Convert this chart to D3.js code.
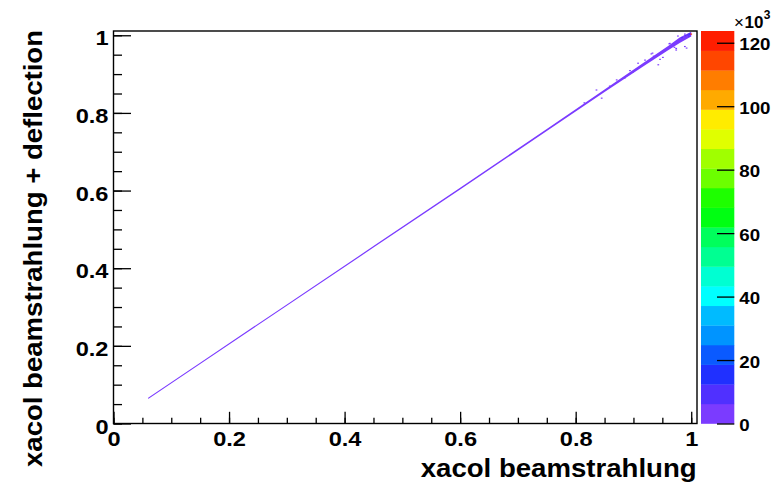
<!DOCTYPE html>
<html>
<head>
<meta charset="utf-8">
<script src="https://cdn.jsdelivr.net/npm/d3@7/dist/d3.min.js"></script>
<style>
  html, body { margin: 0; padding: 0; background: #fff; }
  svg { display: block; font-family: "Liberation Sans", Arial, Helvetica, sans-serif; font-weight: bold; }
</style>
</head>
<body>
<svg id="chart" width="778" height="485"></svg>
<script>
// ---- axis ranges and ticks ----
const xRange = [0, 1.01];
const yRange = [0, 1.011];
const majorTicks = [0, 0.2, 0.4, 0.6, 0.8, 1];
const minorTicks = d3.range(0, 1.0001, 0.05);
const tickLabels = ["0", "0.2", "0.4", "0.6", "0.8", "1"];

// ---- colour axis (entries, x10^3) ----
const zMax = 123.7;
const zTicks = [0, 20, 40, 60, 80, 100, 120];
const palette = [
  "#7b3bff", "#5030ff", "#2030ff", "#0a5aff", "#0094ff",
  "#00bbff", "#00ffff", "#00ffd2", "#00ff92", "#00ff5c",
  "#00ff12", "#1eff00", "#6cff00", "#a0ff00", "#e0ff00",
  "#ffec00", "#ffaa00", "#ff7d00", "#ff4600", "#ff1e00"
];

// ---- populated ridge of the distribution: x, centre y, half-thickness ----
const ridgeX    = [0.060, 0.15, 0.30, 0.45, 0.60, 0.75, 0.85, 0.92, 0.96, 0.98, 1.000];
const ridgeY    = [0.065, 0.155, 0.305, 0.455, 0.605, 0.756, 0.857, 0.927, 0.967, 0.987, 1.003];
const ridgeHalf = [0.0016, 0.0017, 0.0018, 0.0019, 0.0021, 0.0026, 0.0034, 0.0045, 0.0055, 0.0070, 0.0060];
const ridgeCount = 0.5;

// ---- isolated bins off the ridge: [x, y, entries x10^3] ----
const cells = [
  [0.815, 0.826, 0.3], [0.836, 0.859, 0.4], [0.845, 0.838, 0.3], [0.859, 0.869, 0.3],
  [0.871, 0.885, 0.4], [0.885, 0.890, 0.3], [0.894, 0.909, 0.5], [0.899, 0.905, 0.4],
  [0.908, 0.928, 0.3], [0.920, 0.936, 0.4], [0.931, 0.952, 0.3], [0.933, 0.954, 0.5],
  [0.935, 0.946, 0.4], [0.940, 0.947, 0.3], [0.943, 0.924, 0.3], [0.946, 0.938, 0.4],
  [0.951, 0.943, 0.3], [0.962, 0.978, 0.4], [0.963, 0.979, 0.5], [0.967, 0.976, 0.3],
  [0.971, 0.969, 0.4], [0.974, 0.962, 0.3], [0.974, 0.966, 0.3], [0.975, 0.983, 0.5],
  [0.977, 0.998, 0.4], [0.979, 0.989, 0.6], [0.989, 0.971, 0.3], [0.989, 1.003, 0.8],
  [0.992, 0.967, 0.3],
  [0.984, 0.994, 7.5], [0.990, 0.999, 9.0], [0.994, 1.001, 8.0], [0.997, 1.003, 14.0],
  [0.996, 0.998, 7.0],
  [1.000, 1.003, 123.7]
];
const binSize = 0.003;

// ---- layout ----
const svg = d3.select("#chart");
const frame = { left: 113.5, right: 697, top: 31, bottom: 423.5 };
const bar = { left: 701, right: 734.3 };

const x = d3.scaleLinear().domain(xRange).range([frame.left, frame.right]);
const y = d3.scaleLinear().domain(yRange).range([frame.bottom, frame.top]);
const z = d3.scaleLinear().domain([0, zMax]).range([frame.bottom, frame.top]);
const colour = d3.scaleQuantize().domain([0, zMax]).range(palette);

// stretch glyphs horizontally (wide bold face)
function stretch(sel, k) {
  sel.each(function () {
    const w = this.getComputedTextLength();
    this.setAttribute("textLength", w * k);
    this.setAttribute("lengthAdjust", "spacingAndGlyphs");
  });
}

// ---- histogram content ----
const ridge = ridgeX.map((v, i) => ({ x: v, y: ridgeY[i], h: ridgeHalf[i] }));
svg.append("path")
  .datum(ridge)
  .attr("fill", colour(ridgeCount))
  .attr("d", d3.area()
    .x(d => x(d.x))
    .y0(d => y(d.y - d.h))
    .y1(d => y(d.y + d.h)));

svg.append("g").selectAll("rect")
  .data(cells)
  .join("rect")
  .attr("x", d => x(d[0] - binSize / 2))
  .attr("y", d => y(d[1] + binSize / 2))
  .attr("width", x(binSize) - x(0))
  .attr("height", y(0) - y(binSize))
  .attr("fill", d => colour(d[2]));

// ---- axes ----
const labelSize = 20;

const xMinor = svg.append("g").attr("transform", `translate(0,${frame.bottom})`)
  .call(d3.axisBottom(x).tickValues(minorTicks).tickSize(-5.8).tickFormat(""));
const xMajor = svg.append("g").attr("transform", `translate(0,${frame.bottom})`)
  .call(d3.axisBottom(x).tickValues(majorTicks).tickSize(-11.7).tickPadding(8)
    .tickFormat((d, i) => tickLabels[i]));

const yMinor = svg.append("g").attr("transform", `translate(${frame.left},0)`)
  .call(d3.axisLeft(y).tickValues(minorTicks).tickSize(-8.5).tickFormat(""));
const yMajor = svg.append("g").attr("transform", `translate(${frame.left},0)`)
  .call(d3.axisLeft(y).tickValues(majorTicks).tickSize(-17.5).tickPadding(5)
    .tickFormat((d, i) => tickLabels[i]));

[xMinor, xMajor, yMinor, yMajor].forEach(g => {
  g.select(".domain").remove();
  g.selectAll(".tick line").attr("stroke", "#000").attr("stroke-width", 1.3);
  g.selectAll("text").attr("fill", "#000").style("font-size", labelSize + "px")
    .style("font-family", "Liberation Sans, Arial, sans-serif").style("font-weight", "bold");
});
yMajor.selectAll("text").attr("dy", "0.48em");
stretch(xMajor.selectAll("text"), 1.18);
stretch(yMajor.selectAll("text"), 1.18);

// frame
svg.append("rect")
  .attr("x", frame.left).attr("y", frame.top)
  .attr("width", frame.right - frame.left).attr("height", frame.bottom - frame.top)
  .attr("fill", "none").attr("stroke", "#000").attr("stroke-width", 1.4);

// ---- colour bar ----
const bands = d3.range(palette.length);
svg.append("g").selectAll("rect")
  .data(bands)
  .join("rect")
  .attr("x", bar.left)
  .attr("width", bar.right - bar.left)
  .attr("y", i => z((i + 1) * zMax / palette.length))
  .attr("height", i => z(i * zMax / palette.length) - z((i + 1) * zMax / palette.length) + 0.3)
  .attr("fill", i => palette[i]);

const zAxis = svg.append("g").attr("transform", `translate(${bar.right},0)`)
  .call(d3.axisRight(z).tickValues(zTicks).tickSize(-17.3).tickPadding(5).tickFormat(d3.format("d")));
zAxis.select(".domain").remove();
zAxis.selectAll(".tick line").attr("stroke", "#000").attr("stroke-width", 1.3);
zAxis.selectAll("text").attr("fill", "#000").attr("dy", "0.42em")
  .style("font-size", "17px").style("font-family", "Liberation Sans, Arial, sans-serif")
  .style("font-weight", "bold");
stretch(zAxis.selectAll("text"), 1.1);

// exponent of the colour axis
const expo = svg.append("text").attr("x", 734).attr("y", 27.5).attr("fill", "#000");
expo.append("tspan").text("×").style("font-size", "17px").style("font-weight", "normal");
expo.append("tspan").text("10").style("font-size", "17px").attr("dx", 0.5);
expo.append("tspan").text("3").style("font-size", "12px").attr("dy", -9).attr("dx", 0.5);

// ---- axis titles ----
const xTitle = svg.append("text")
  .attr("x", 696.7).attr("y", 476.7)
  .attr("text-anchor", "end").attr("fill", "#000")
  .style("font-size", "26px")
  .text("xacol beamstrahlung");
xTitle.attr("textLength", 276).attr("lengthAdjust", "spacingAndGlyphs");

const yTitle = svg.append("text")
  .attr("transform", "translate(41.7,30) rotate(-90)")
  .attr("text-anchor", "end").attr("fill", "#000")
  .style("font-size", "26px")
  .text("xacol beamstrahlung + deflection");
yTitle.attr("textLength", 437).attr("lengthAdjust", "spacingAndGlyphs");
</script>
</body>
</html>
